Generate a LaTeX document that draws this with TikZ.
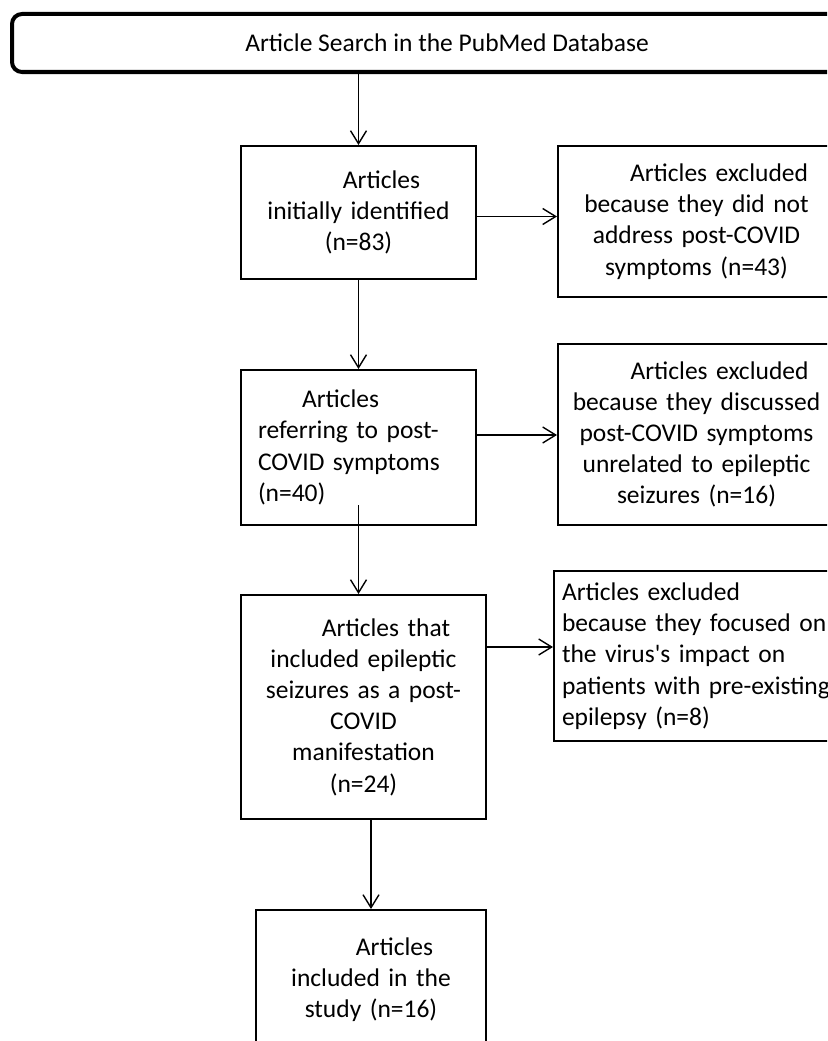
\documentclass[tikz,border=0pt]{standalone}
\usepackage{fontspec}
\setmainfont{Carlito}
\usetikzlibrary{arrows.meta,calc}
\begin{document}
\begin{tikzpicture}[x=1pt,y=-1pt,
  every node/.style={font=\fontsize{25.5}{31.2}\selectfont},
  boxc/.style={draw, line width=2pt, anchor=north west, inner xsep=0pt, inner ysep=0pt, align=center},
  boxl/.style={draw, line width=2pt, anchor=north west, inner ysep=0pt, align=left},
  arr/.style={line width=1.4pt, -{Straight Barb[length=13pt,width=16pt]}}
]
\clip (0,0) rectangle (827,1041);
\node[draw, line width=4pt, rounded corners=10pt, anchor=north west,
      minimum width=870pt, minimum height=58pt, inner sep=0pt] (search) at (10,12)
      {Article Search in the PubMed Database};
\node[boxc, text width=235pt, minimum height=133pt] (b1) at (240,145)
      {\hspace*{46pt}Articles\\initially identified\\(n=83)};
\node[boxc, text width=277pt, minimum height=151pt] (b2) at (557,145)
      {\hspace*{45pt}Articles excluded\\because they did not\\address post-COVID\\symptoms (n=43)};
\node[boxl, inner xsep=17pt, text width=201pt, minimum height=155pt] (b3) at (240,369)
      {\hspace*{44pt}Articles\\referring to post-\\COVID symptoms\\(n=40)};
\node[boxc, text width=277pt, minimum height=181pt] (b4) at (557,343)
      {\hspace*{46pt}Articles excluded\\because they discussed\\post-COVID symptoms\\unrelated to epileptic\\seizures (n=16)};
\node[boxc, text width=245pt, minimum height=224pt] (b5) at (240,594)
      {\hspace*{45pt}Articles that\\included epileptic\\seizures as a post-\\COVID\\manifestation\\(n=24)};
\node[boxl, inner xsep=8pt, text width=300pt, minimum height=170pt] (b6) at (553,570)
      {Articles excluded\\because they focused on\\the virus\textquotesingle s impact on\\patients with pre-existing\\epilepsy (n=8)};
\node[boxc, text width=230pt, minimum height=139pt] (b7) at (255,909)
      {\hspace*{47pt}Articles\\included in the\\study (n=16)};

\draw[arr] (b1.north |- search.south) -- (b1.north);
\draw[arr] ([yshift=-4pt]b1.east) -- ([yshift=-4pt]b1.east -| b2.west);
\draw[arr] (b1.south) -- (b1.south |- b3.north);
\draw[arr] ([yshift=12.5pt]b3.east) -- ([yshift=12.5pt]b3.east -| b4.west);
\draw[arr] ([yshift=21pt]b3.south) -- (b3.south |- b5.north);
\draw[arr] ([yshift=60pt]b5.east) -- ([yshift=60pt]b5.east -| b6.west);
\draw[arr] (b5.south -| b7.north) -- (b7.north);
\end{tikzpicture}
\end{document}
